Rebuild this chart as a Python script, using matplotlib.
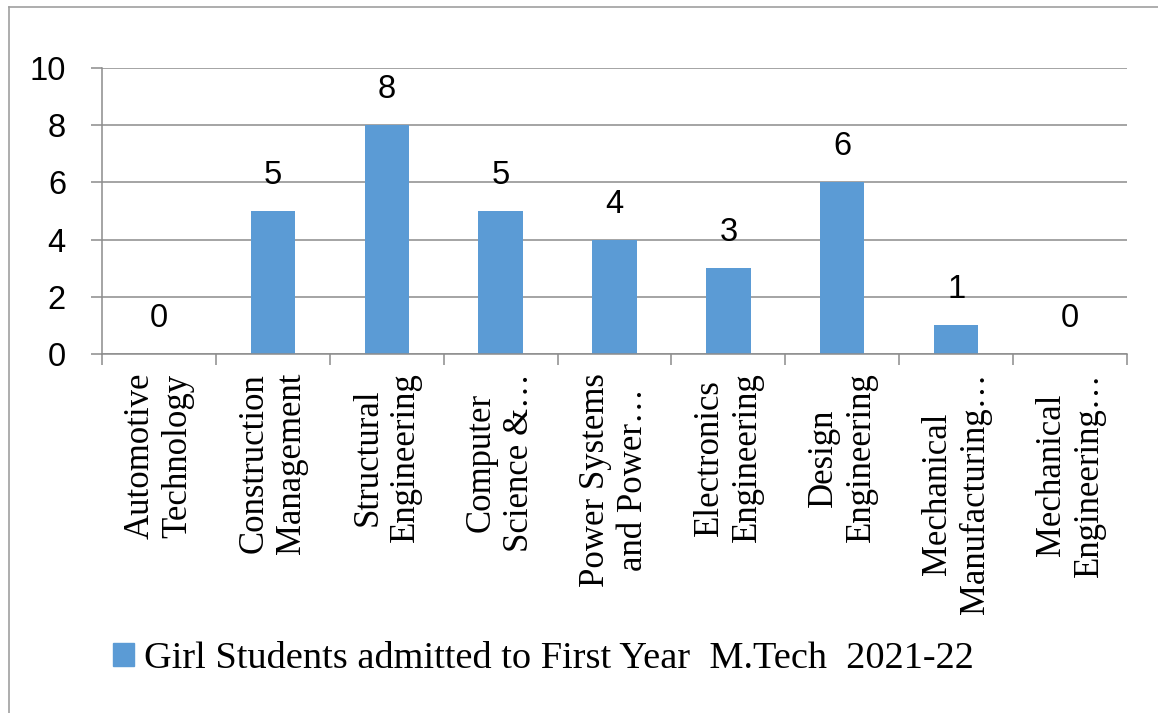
import numpy as np
import matplotlib
matplotlib.use("Agg")
import matplotlib.pyplot as plt
from matplotlib.lines import Line2D

# data
programs = ["Automotive\nTechnology", "Construction\nManagement", "Structural\nEngineering",
            "Computer\nScience &\u2026", "Power Systems\nand Power\u2026", "Electronics\nEngineering",
            "Design\nEngineering", "Mechanical\nManufacturing\u2026", "Mechanical\nEngineering\u2026"]
girls = [0, 5, 8, 5, 4, 3, 6, 1, 0]
series_name = "Girl Students admitted to First Year  M.Tech  2021-22"
yticks = [0, 2, 4, 6, 8, 10]

bar_color = "#5B9BD5"
grey = "#8C8C8C"
W, H = 1158, 713

fig = plt.figure(figsize=(W / 100, H / 100), dpi=100)
ax = fig.add_axes([102 / W, 1 - 354 / H, (1127 - 102) / W, (354 - 68) / H])

x = np.arange(len(programs))
ax.bar(x, girls, width=0.39, color=bar_color, zorder=3)

for xi, v in zip(x, girls):
    ax.annotate(str(v), (xi, v), xytext=(0, 19.5), textcoords="offset points",
                ha="center", va="baseline", fontsize=23.5, family="Liberation Sans")

ax.set_xlim(-0.5, len(programs) - 0.5)
ax.set_ylim(0, 10)
ax.set_yticks(yticks)
ax.set_yticklabels([str(t) for t in yticks], family="Liberation Sans", fontsize=23.5)
ax.tick_params(axis="y", length=8, width=1.1, color=grey, pad=18)
ax.grid(axis="y", color=grey, linewidth=1.1, zorder=0)

# boundary ticks on the category axis, labels at the centres
ax.set_xticks(np.arange(-0.5, len(programs), 1.0))
ax.set_xticklabels([])
ax.tick_params(axis="x", which="major", length=7.7, width=1.1, color=grey)
ax.set_xticks(x, minor=True)
ax.set_xticklabels(programs, minor=True, rotation=90, ha="center", va="top",
                   multialignment="center", family="Liberation Serif", fontsize=25,
                   linespacing=1.2)
ax.tick_params(axis="x", which="minor", length=0, pad=13.5)

for s in ["top", "right"]:
    ax.spines[s].set_visible(False)
for s in ["left", "bottom"]:
    ax.spines[s].set_color(grey)
    ax.spines[s].set_linewidth(1.1)
    ax.spines[s].set_zorder(4)

ax.legend([plt.Rectangle((0, 0), 1, 1, color=bar_color)], [series_name],
          loc="center left", bbox_to_anchor=(113 / W, 1 - 659 / H),
          bbox_transform=fig.transFigure, frameon=False, borderpad=0,
          borderaxespad=0, handlelength=0.55, handleheight=0.55, handletextpad=0.25,
          prop={"family": "Liberation Serif", "size": 27.6})

# chart area border (only top and left edges fall inside the picture)
fig.add_artist(Line2D([9 / W, 1], [1 - 7 / H, 1 - 7 / H], color="#A0A0A0", lw=1.2,
                      transform=fig.transFigure))
fig.add_artist(Line2D([9 / W, 9 / W], [0, 1 - 7 / H], color="#A0A0A0", lw=1.2,
                      transform=fig.transFigure))

fig.savefig("out.png", dpi=100)
